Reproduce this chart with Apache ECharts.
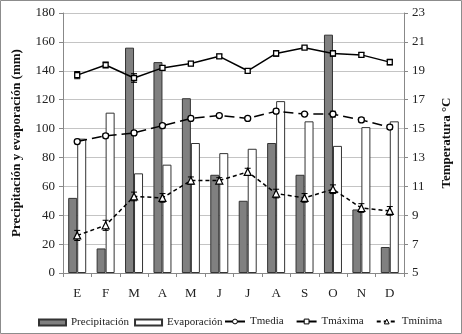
<!DOCTYPE html>
<html>
<head>
<meta charset="utf-8">
<script src="https://cdn.jsdelivr.net/npm/echarts@6/dist/echarts.min.js"></script>
<style>
  html, body { margin: 0; padding: 0; background: #fff; }
  #chart { width: 462px; height: 334px; }
</style>
</head>
<body>
<div id="chart"></div>
<script>
// datos
const months = ["E", "F", "M", "A", "M", "J", "J", "A", "S", "O", "N", "D"];
const precipitacion = [52, 17, 156, 146, 121, 68, 50, 90, 68, 165, 44, 18];
const evaporacion = [93, 111, 69, 75, 90, 83, 86, 119, 105, 88, 101, 105];
const tmedia = [14.1, 14.5, 14.7, 15.2, 15.7, 15.9, 15.7, 16.2, 16.0, 16.0, 15.6, 15.1];
const tmaxima = [18.7, 19.4, 18.5, 19.2, 19.5, 20.0, 19.0, 20.2, 20.6, 20.2, 20.1, 19.6];
const tminima = [7.6, 8.3, 10.3, 10.2, 11.4, 11.4, 12.0, 10.5, 10.2, 10.8, 9.5, 9.3];
const errMedia = [0.15, 0.15, 0.15, 0.15, 0.15, 0.1, 0.1, 0.15, 0.1, 0.2, 0.15, 0.15];
const errMaxima = [0.25, 0.2, 0.3, 0.15, 0.15, 0.15, 0.15, 0.2, 0.1, 0.2, 0.15, 0.2];
const errMinima = [0.35, 0.35, 0.3, 0.3, 0.25, 0.2, 0.25, 0.3, 0.3, 0.3, 0.3, 0.3];

const font = "Liberation Serif";

function errData(vals, errs) {
  return vals.map((v, i) => [i, v - errs[i], v + errs[i]]);
}

function errSeries(vals, errs) {
  return {
    type: "custom",
    yAxisIndex: 1,
    silent: true,
    z: 3,
    data: errData(vals, errs),
    renderItem: (params, api) => {
      const lo = api.coord([api.value(0), api.value(1)]);
      const hi = api.coord([api.value(0), api.value(2)]);
      const w = 3;
      const st = { stroke: "#000", lineWidth: 1 };
      return {
        type: "group",
        children: [
          { type: "line", shape: { x1: lo[0], y1: lo[1], x2: hi[0], y2: hi[1] }, style: st },
          { type: "line", shape: { x1: lo[0] - w, y1: lo[1], x2: lo[0] + w, y2: lo[1] }, style: st },
          { type: "line", shape: { x1: hi[0] - w, y1: hi[1], x2: hi[0] + w, y2: hi[1] }, style: st }
        ]
      };
    }
  };
}

const legendText = { fontFamily: font, fontSize: 11, color: "#222" };
const legendMark = { color: "#fff", borderColor: "#000", borderWidth: 1 };

const chart = echarts.init(document.getElementById("chart"));
chart.setOption({
  animation: false,
  textStyle: { fontFamily: font },
  graphic: [{
    type: "rect",
    shape: { x: 0.5, y: 0.5, width: 461, height: 333 },
    style: { fill: "none", stroke: "#8c8c8c", lineWidth: 1 },
    silent: true
  }],
  grid: { left: 63, right: 58, top: 13, bottom: 61 },
  legend: [
    {
      top: 312,
      left: 33,
      itemWidth: 27,
      itemHeight: 6,
      itemGap: 5,
      textStyle: legendText,
      data: [
        { name: "Precipitación", icon: "rect" },
        { name: "Evaporación", icon: "rect" }
      ]
    },
    {
      top: 311,
      left: 219,
      itemWidth: 20,
      itemHeight: 6,
      itemGap: 12,
      textStyle: legendText,
      data: [
        { name: "Tmedia", lineStyle: { type: "solid" }, itemStyle: legendMark },
        { name: "Tmáxima", itemStyle: legendMark },
        { name: "Tmínima", itemStyle: legendMark }
      ]
    }
  ],
  xAxis: {
    type: "category",
    data: months,
    axisLine: { lineStyle: { color: "#888" } },
    axisTick: { show: true, length: 4, lineStyle: { color: "#888" } },
    axisLabel: { color: "#222", fontSize: 13, margin: 14, fontFamily: font }
  },
  yAxis: [
    {
      type: "value",
      min: 0, max: 180, interval: 20,
      name: "Precipitación y evaporación (mm)",
      nameLocation: "middle",
      nameRotate: 90,
      nameGap: 40,
      nameTextStyle: { fontFamily: font, fontWeight: "bold", fontSize: 13, color: "#111" },
      axisLine: { show: true, lineStyle: { color: "#888" } },
      axisTick: { show: true, length: 4, lineStyle: { color: "#888" } },
      axisLabel: { color: "#222", fontSize: 13, margin: 8, fontFamily: font },
      splitLine: { lineStyle: { color: "#c4c4c4", width: 1 } }
    },
    {
      type: "value",
      min: 5, max: 23, interval: 2,
      name: "Temperatura °C",
      nameLocation: "middle",
      nameRotate: 90,
      nameGap: 36,
      nameTextStyle: { fontFamily: font, fontWeight: "bold", fontSize: 13, color: "#111" },
      axisLine: { show: true, lineStyle: { color: "#888" } },
      axisTick: { show: true, length: 4, lineStyle: { color: "#888" } },
      axisLabel: { color: "#222", fontSize: 13, margin: 8, fontFamily: font },
      splitLine: { show: false }
    }
  ],
  series: [
    {
      name: "Precipitación",
      type: "bar",
      data: precipitacion,
      barWidth: 9,
      barGap: "0%",
      itemStyle: { color: "#808080", borderColor: "#333", borderWidth: 1 }
    },
    {
      name: "Evaporación",
      type: "bar",
      data: evaporacion,
      barWidth: 9,
      barGap: "0%",
      itemStyle: { color: "#fff", borderColor: "#333", borderWidth: 1 }
    },
    {
      name: "Tmedia",
      type: "line",
      yAxisIndex: 1,
      data: tmedia,
      symbol: "circle",
      symbolSize: 6,
      z: 4,
      lineStyle: { color: "#000", width: 1.5, type: [10, 5] },
      itemStyle: { color: "#fff", borderColor: "#000", borderWidth: 1.3 }
    },
    {
      name: "Tmáxima",
      type: "line",
      yAxisIndex: 1,
      data: tmaxima,
      symbol: "rect",
      symbolSize: 5,
      z: 4,
      lineStyle: { color: "#000", width: 1.5 },
      itemStyle: { color: "#fff", borderColor: "#000", borderWidth: 1.3 }
    },
    {
      name: "Tmínima",
      type: "line",
      yAxisIndex: 1,
      data: tminima,
      symbol: "triangle",
      symbolSize: 7,
      z: 4,
      lineStyle: { color: "#000", width: 1.5, type: [4, 3] },
      itemStyle: { color: "#fff", borderColor: "#000", borderWidth: 1.2 }
    },
    errSeries(tmedia, errMedia),
    errSeries(tmaxima, errMaxima),
    errSeries(tminima, errMinima)
  ]
});
</script>
</body>
</html>
